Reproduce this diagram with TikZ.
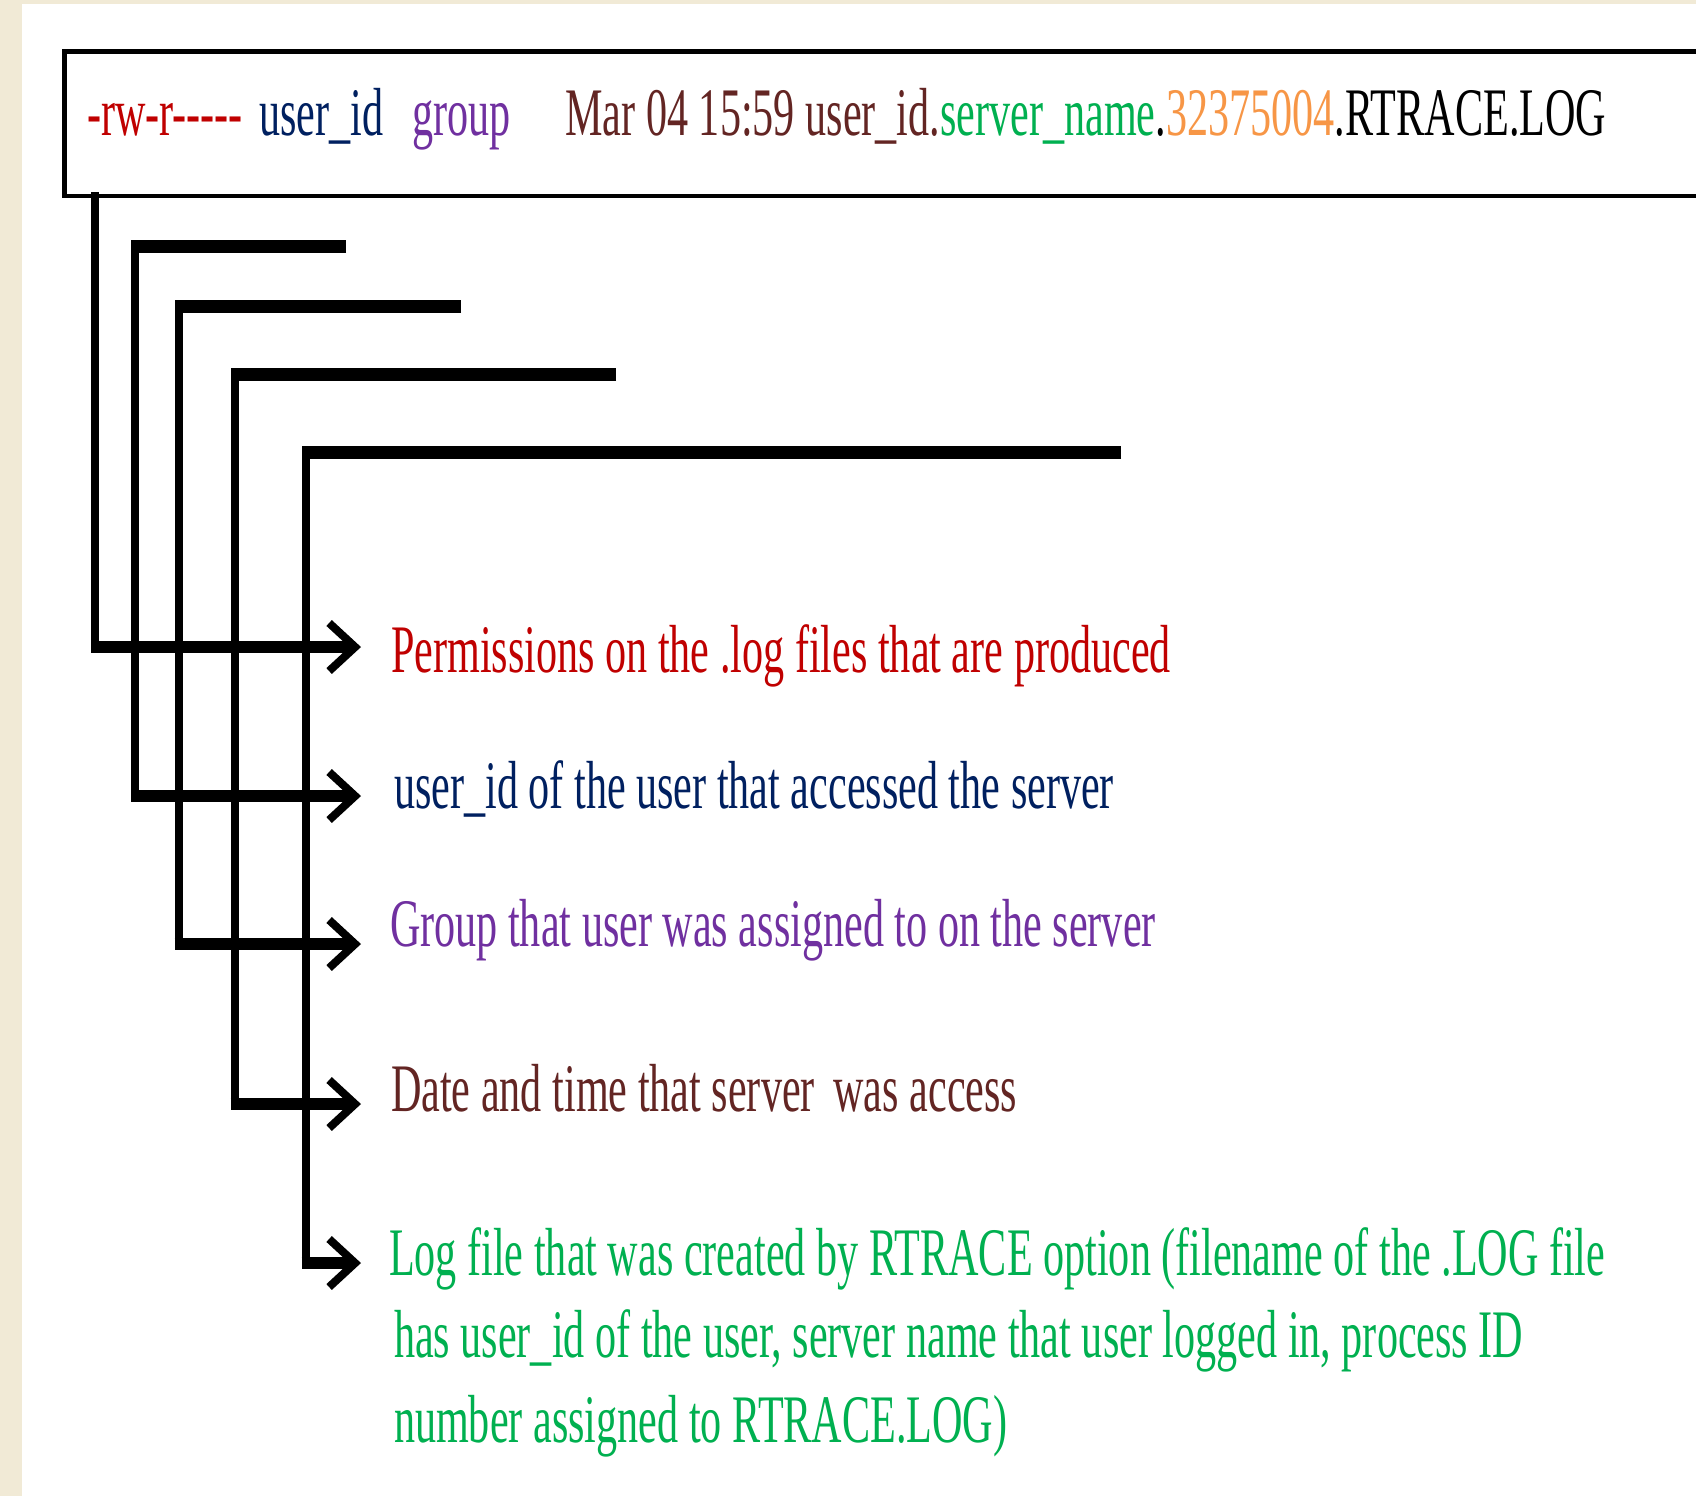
\documentclass[tikz,border=0pt]{standalone}
\usepackage{fontspec}
\setmainfont{Liberation Serif}[FakeStretch=0.62]
\usetikzlibrary{arrows.meta}
\definecolor{cream}{HTML}{F1EAD6}
\definecolor{permred}{HTML}{C00000}
\definecolor{navy}{HTML}{002060}
\definecolor{grpurple}{HTML}{7030A0}
\definecolor{darkbrown}{HTML}{632523}
\definecolor{loggreen}{HTML}{00B050}
\definecolor{pidorange}{HTML}{F79646}
\begin{document}
\begin{tikzpicture}[x=0.5pt,y=-0.5pt,
  lbl/.style={anchor=base west, inner sep=0pt, outer sep=0pt,
    font=\fontsize{34pt}{41.5pt}\selectfont},
  vline/.style={line width=4pt, line cap=rect},
  bar/.style={line width=6.5pt},
  arr/.style={line width=6pt,
    -{Straight Barb[length=13pt,width=24pt,line width=4pt]}},
]
\useasboundingbox (0,0) rectangle (1696,1496);
\clip (0,0) rectangle (1696,1496);
\fill[cream] (0,0) rectangle (1696,1496);
\fill[white] (22,4) rectangle (1700,1500);

% header line of the listing
\node[draw, line width=2.25pt, inner sep=0pt, outer sep=0pt, anchor=north west,
  minimum width=1000pt, minimum height=72.25pt] (hdr) at (64.5,51.5) {};
\node[lbl, permred] (hperm) at (87,135) {-rw-r-{}-{}-{}-{}-};
\node[lbl, navy] (huser) at (259.5,135) {user\_id};
\node[lbl, grpurple] (hgroup) at (412,135) {group};
\node[lbl, darkbrown] (hname) at (565.5,135)
  {Mar 04 15:59 user\_id.\textcolor{loggreen}{server\_name}\textcolor{black}{.}\textcolor{pidorange}{32375004}\textcolor{black}{.RTRACE.LOG}};

% corners, bar ends and arrow tips
\coordinate (k1) at (95,647);   \coordinate (a1) at (361,647);
\coordinate (e2) at (346,246);  \coordinate (k2) at (135,796);  \coordinate (a2) at (361,796);
\coordinate (e3) at (461,306);  \coordinate (k3) at (178.5,944); \coordinate (a3) at (361,944);
\coordinate (e4) at (616,374);  \coordinate (k4) at (234.5,1104); \coordinate (a4) at (361,1104);
\coordinate (e5) at (1121,452); \coordinate (k5) at (305.5,1263); \coordinate (a5) at (361,1263);

% explanations
\node[lbl, permred] (t1) at (391,672) {Permissions on the .log files that are produced};
\node[lbl, navy] (t2) at (394,808) {user\_id of the user that accessed the server};
\node[lbl, grpurple] (t3) at (390,946) {Group that user was assigned to on the server};
\node[lbl, darkbrown] (t4) at (391,1111) {Date and time that server\kern0.12em{} was access};
\node[lbl, loggreen] (t5) at (389,1275) {Log file that was created by RTRACE option (filename of the .LOG file};
\node[lbl, loggreen] (t5b) at (394,1357) {has user\_id of the user, server name that user logged in, process ID};
\node[lbl, loggreen] (t5c) at (394,1442) {number assigned to RTRACE.LOG)};

% top bars
\draw[bar] (e2) -- ([xshift=-2pt]e2 -| k2);
\draw[bar] (e3) -- ([xshift=-2pt]e3 -| k3);
\draw[bar] (e4) -- ([xshift=-2pt]e4 -| k4);
\draw[bar] (e5) -- ([xshift=-2pt]e5 -| k5);

% vertical drops
\draw[vline] (hdr.south -| k1) -- (k1);
\draw[vline] (e2 -| k2) -- (k2);
\draw[vline] (e3 -| k3) -- (k3);
\draw[vline] (e4 -| k4) -- (k4);
\draw[vline] (e5 -| k5) -- (k5);

% arrows to the explanations
\draw[arr] ([xshift=-2pt]k1) -- (a1);
\draw[arr] ([xshift=-2pt]k2) -- (a2);
\draw[arr] ([xshift=-2pt]k3) -- (a3);
\draw[arr] ([xshift=-2pt]k4) -- (a4);
\draw[arr] ([xshift=-2pt]k5) -- (a5);
\end{tikzpicture}
\end{document}
